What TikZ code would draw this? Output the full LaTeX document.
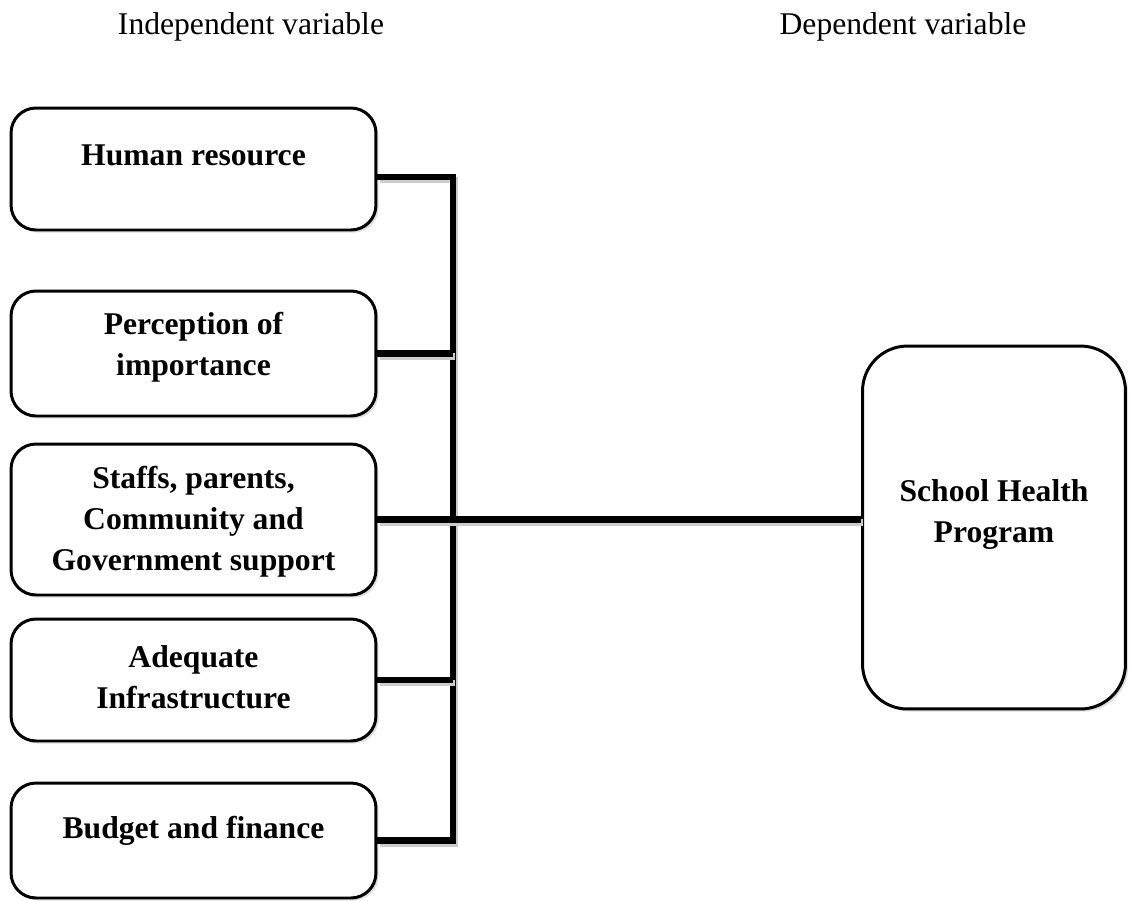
\documentclass[tikz,border=0pt]{standalone}
\usepackage{fontspec}
\setmainfont{Liberation Serif}
\usetikzlibrary{shadows,calc}

\tikzset{
  factor/.style={draw, line width=1.7pt, rounded corners=0.5cm, fill=white,
    minimum width=7.3cm,
    drop shadow={opacity=0.25, shadow xshift=1.5pt, shadow yshift=-1.5pt}},
  outcome/.style={factor, rounded corners=0.9cm, minimum width=5.26cm, minimum height=7.26cm},
  boxtext/.style={align=center, font=\fontsize{18}{23.3}\selectfont\bfseries},
  head/.style={font=\fontsize{18}{22}\selectfont},
  link/.style={line width=3.7pt, line join=miter,
    preaction={draw, black!20, line width=3.7pt, transform canvas={shift={(1.2pt,-1.8pt)}}}}
}

\begin{document}
\begin{tikzpicture}[x=0.02cm, y=-0.02cm]
  \useasboundingbox (0,0) rectangle (1129,900);

  % headings
  \node[head] (iv) at (251,27) {Independent variable};
  \node[head] (dv) at (903,27) {Dependent variable};

  % independent variables
  \node[factor, minimum height=2.44cm] (hr) at (193.5,169) {};
  \node[boxtext] (hrt) at ($(hr)+(0,-14)$) {Human resource};
  \node[factor, minimum height=2.5cm] (pi) at (193.5,353.5) {};
  \node[boxtext] (pit) at ($(pi)+(0,-6)$) {Perception of\\importance};
  \node[factor, minimum height=3.02cm] (sp) at (193.5,519.5) {};
  \node[boxtext] (spt) at ($(sp)+(0,2)$) {Staffs, parents,\\Community and\\Government support};
  \node[factor, minimum height=2.44cm] (ai) at (193.5,680) {};
  \node[boxtext] (ait) at ($(ai)+(0,-3)$) {Adequate\\Infrastructure};
  \node[factor, minimum height=2.3cm] (bf) at (193.5,840.5) {};
  \node[boxtext] (bft) at ($(bf)+(0,-10)$) {Budget and finance};

  % dependent variable
  \node[outcome] (sh) at (994,527.5) {};
  \node[boxtext] (sht) at ($(sh)+(0,-13)$) {School Health\\Program};

  % connectors
  \coordinate (bus) at (453,500);
  \draw[link] ($(hr.east)+(0,8)$) -| (bus) |- (bf.east);
  \draw[link] (pi.east) -- (pi.east -| bus);
  \draw[link] (sp.east) -- (sp.east -| sh.west);
  \draw[link] (ai.east) -- (ai.east -| bus);
\end{tikzpicture}
\end{document}
